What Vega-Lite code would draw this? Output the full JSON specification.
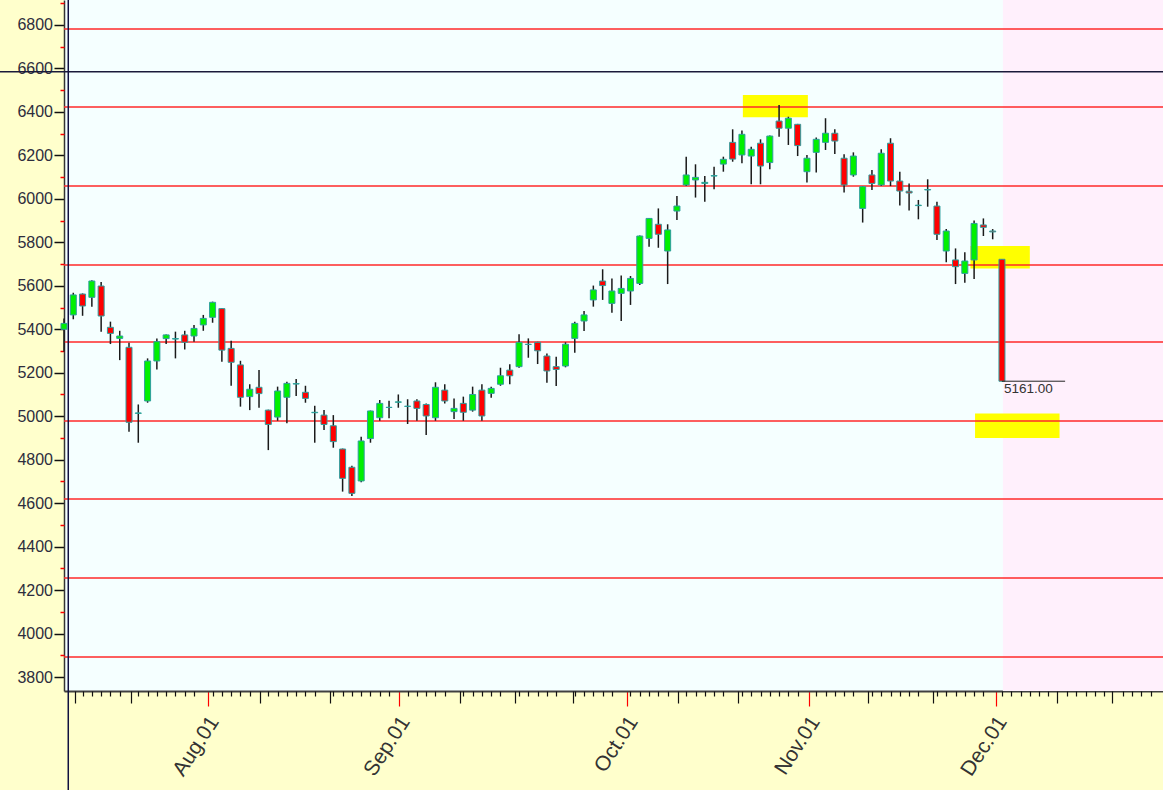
{
  "$schema": "https://vega.github.io/schema/vega-lite/v6.json",
  "width": 1099,
  "height": 691,
  "autosize": "none",
  "padding": {"left": 64, "top": 0, "right": 0, "bottom": 99},
  "background": "#ffffcc",
  "config": {"view": {"fill": "#f5ffff", "stroke": null}},
  "resolve": {"axis": {"x": "independent", "y": "independent"}},
  "datasets": {
    "candles": [
      {"i":0,"o":5400,"h":5450,"l":5297,"c":5427},
      {"i":1,"o":5466,"h":5568,"l":5446,"c":5558},
      {"i":2,"o":5562,"h":5565,"l":5462,"c":5507},
      {"i":3,"o":5547,"h":5625,"l":5504,"c":5622},
      {"i":4,"o":5599,"h":5617,"l":5389,"c":5461},
      {"i":5,"o":5409,"h":5435,"l":5332,"c":5381},
      {"i":6,"o":5358,"h":5393,"l":5258,"c":5369},
      {"i":7,"o":5317,"h":5338,"l":4929,"c":4972},
      {"i":8,"o":5013,"h":5054,"l":4878,"c":5015},
      {"i":9,"o":5070,"h":5266,"l":5062,"c":5254},
      {"i":10,"o":5254,"h":5358,"l":5215,"c":5343},
      {"i":11,"o":5357,"h":5376,"l":5332,"c":5374},
      {"i":12,"o":5355,"h":5389,"l":5266,"c":5357},
      {"i":13,"o":5374,"h":5393,"l":5307,"c":5340},
      {"i":14,"o":5369,"h":5420,"l":5343,"c":5404},
      {"i":15,"o":5420,"h":5466,"l":5393,"c":5450},
      {"i":16,"o":5455,"h":5527,"l":5430,"c":5524},
      {"i":17,"o":5495,"h":5497,"l":5251,"c":5304},
      {"i":18,"o":5312,"h":5347,"l":5140,"c":5248},
      {"i":19,"o":5236,"h":5255,"l":5044,"c":5087},
      {"i":20,"o":5090,"h":5147,"l":5028,"c":5124},
      {"i":21,"o":5133,"h":5212,"l":5039,"c":5104},
      {"i":22,"o":5028,"h":5030,"l":4844,"c":4962},
      {"i":23,"o":4996,"h":5136,"l":4979,"c":5116},
      {"i":24,"o":5087,"h":5159,"l":4967,"c":5151},
      {"i":25,"o":5148,"h":5171,"l":5093,"c":5150},
      {"i":26,"o":5110,"h":5140,"l":5062,"c":5082},
      {"i":27,"o":5016,"h":5048,"l":4878,"c":5018},
      {"i":28,"o":5005,"h":5028,"l":4936,"c":4962},
      {"i":29,"o":4956,"h":5005,"l":4855,"c":4883},
      {"i":30,"o":4849,"h":4851,"l":4653,"c":4714},
      {"i":31,"o":4765,"h":4772,"l":4633,"c":4645},
      {"i":32,"o":4702,"h":4906,"l":4696,"c":4886},
      {"i":33,"o":4897,"h":5026,"l":4878,"c":5024},
      {"i":34,"o":4993,"h":5075,"l":4979,"c":5059},
      {"i":35,"o":5040,"h":5071,"l":4990,"c":5041},
      {"i":36,"o":5064,"h":5100,"l":5039,"c":5066},
      {"i":37,"o":5045,"h":5078,"l":4964,"c":5046},
      {"i":38,"o":5070,"h":5078,"l":4979,"c":5036},
      {"i":39,"o":5054,"h":5059,"l":4913,"c":5001},
      {"i":40,"o":4993,"h":5156,"l":4979,"c":5133},
      {"i":41,"o":5120,"h":5147,"l":5059,"c":5070},
      {"i":42,"o":5021,"h":5082,"l":4987,"c":5036},
      {"i":43,"o":5059,"h":5090,"l":4979,"c":5018},
      {"i":44,"o":5028,"h":5136,"l":5021,"c":5100},
      {"i":45,"o":5120,"h":5147,"l":4979,"c":5001},
      {"i":46,"o":5105,"h":5136,"l":5085,"c":5128},
      {"i":47,"o":5147,"h":5223,"l":5140,"c":5186},
      {"i":48,"o":5212,"h":5239,"l":5147,"c":5186},
      {"i":49,"o":5228,"h":5377,"l":5223,"c":5340},
      {"i":50,"o":5330,"h":5358,"l":5269,"c":5331},
      {"i":51,"o":5340,"h":5342,"l":5240,"c":5301},
      {"i":52,"o":5277,"h":5289,"l":5154,"c":5208},
      {"i":53,"o":5228,"h":5274,"l":5139,"c":5215},
      {"i":54,"o":5231,"h":5340,"l":5225,"c":5331},
      {"i":55,"o":5358,"h":5435,"l":5292,"c":5427},
      {"i":56,"o":5438,"h":5484,"l":5392,"c":5466},
      {"i":57,"o":5535,"h":5601,"l":5504,"c":5581},
      {"i":58,"o":5622,"h":5676,"l":5535,"c":5601},
      {"i":59,"o":5519,"h":5634,"l":5476,"c":5576},
      {"i":60,"o":5565,"h":5647,"l":5438,"c":5588},
      {"i":61,"o":5576,"h":5645,"l":5512,"c":5634},
      {"i":62,"o":5611,"h":5832,"l":5604,"c":5829},
      {"i":63,"o":5818,"h":5912,"l":5780,"c":5910},
      {"i":64,"o":5883,"h":5956,"l":5775,"c":5837},
      {"i":65,"o":5760,"h":5883,"l":5608,"c":5857},
      {"i":66,"o":5944,"h":6013,"l":5903,"c":5967},
      {"i":67,"o":6064,"h":6194,"l":6059,"c":6110},
      {"i":68,"o":6087,"h":6159,"l":6006,"c":6099},
      {"i":69,"o":6071,"h":6105,"l":5987,"c":6076},
      {"i":70,"o":6105,"h":6148,"l":6044,"c":6107},
      {"i":71,"o":6160,"h":6194,"l":6125,"c":6182},
      {"i":72,"o":6260,"h":6320,"l":6171,"c":6183},
      {"i":73,"o":6202,"h":6314,"l":6164,"c":6297},
      {"i":74,"o":6197,"h":6240,"l":6067,"c":6228},
      {"i":75,"o":6256,"h":6274,"l":6067,"c":6151},
      {"i":76,"o":6167,"h":6291,"l":6136,"c":6289},
      {"i":77,"o":6358,"h":6432,"l":6286,"c":6325},
      {"i":78,"o":6325,"h":6378,"l":6248,"c":6371},
      {"i":79,"o":6343,"h":6345,"l":6197,"c":6245},
      {"i":80,"o":6125,"h":6202,"l":6075,"c":6187},
      {"i":81,"o":6214,"h":6282,"l":6121,"c":6274},
      {"i":82,"o":6260,"h":6371,"l":6225,"c":6302},
      {"i":83,"o":6302,"h":6320,"l":6206,"c":6266},
      {"i":84,"o":6187,"h":6205,"l":6029,"c":6064},
      {"i":85,"o":6110,"h":6214,"l":6102,"c":6197},
      {"i":86,"o":5956,"h":6058,"l":5891,"c":6056},
      {"i":87,"o":6110,"h":6133,"l":6041,"c":6071},
      {"i":88,"o":6064,"h":6228,"l":6059,"c":6210},
      {"i":89,"o":6256,"h":6279,"l":6059,"c":6082},
      {"i":90,"o":6082,"h":6125,"l":5969,"c":6036},
      {"i":91,"o":6035,"h":6071,"l":5946,"c":6027},
      {"i":92,"o":5969,"h":5995,"l":5906,"c":5971},
      {"i":93,"o":6041,"h":6090,"l":5964,"c":6043},
      {"i":94,"o":5967,"h":5987,"l":5811,"c":5837},
      {"i":95,"o":5760,"h":5861,"l":5708,"c":5852},
      {"i":96,"o":5719,"h":5772,"l":5608,"c":5688},
      {"i":97,"o":5657,"h":5754,"l":5614,"c":5714},
      {"i":98,"o":5719,"h":5900,"l":5631,"c":5887},
      {"i":99,"o":5880,"h":5910,"l":5829,"c":5869},
      {"i":100,"o":5852,"h":5861,"l":5814,"c":5848},
      {"i":101,"o":5722,"h":5722,"l":5161,"c":5161}
    ],
    "levels": [
      {"lv":6782},{"lv":6423},{"lv":6059},{"lv":5696},{"lv":5341},
      {"lv":4978},{"lv":4619},{"lv":4255},{"lv":3892}
    ],
    "highlights": [
      {"x1":73.1,"x2":80.1,"y1":6376,"y2":6478},
      {"x1":97.6,"x2":104.0,"y1":5680,"y2":5783},
      {"x1":98.1,"x2":107.2,"y1":4900,"y2":5012}
    ],
    "future": [{"a":101.1,"b":118.34}],
    "crossh": [{"xa":-6.9,"xb":118.34,"yv":6585}],
    "crossv": [{"xv":0.46,"ya":3280,"yb":6915}],
    "last": [{"xa":101,"xb":107.8,"yv":5161,"t":"5161.00"}]
  },
  "layer": [
    {
      "data": {"name": "future"},
      "mark": {"type": "rect", "color": "#fff0fc"},
      "encoding": {
        "x": {
          "field": "a", "type": "quantitative",
          "scale": {"domain": [0, 118.34], "nice": false, "zero": false, "padding": 0},
          "axis": {
            "orient": "bottom",
            "title": null,
            "grid": false,
            "values": [15.51, 36.07, 60.62, 80.22, 100.36],
            "labelExpr": "datum.value == 15.51 ? 'Aug.01' : datum.value == 36.07 ? 'Sep.01' : datum.value == 60.62 ? 'Oct.01' : datum.value == 80.22 ? 'Nov.01' : 'Dec.01'",
            "labelOverlap": false,
            "labelFlush": false,
            "labelBound": false,
            "labelAngle": -57,
            "labelAlign": "right",
            "labelBaseline": "middle",
            "labelFont": "Liberation Sans",
            "labelFontSize": 21,
            "labelColor": "#333333",
            "labelOffset": 6,
            "labelPadding": 12,
            "tickColor": "#ff0000",
            "tickSize": 15,
            "tickWidth": 1.2,
            "domainColor": "#404040",
            "domainWidth": 2
          }
        },
        "x2": {"field": "b"}
      }
    },
    {
      "data": {"name": "highlights"},
      "mark": {"type": "rect", "color": "#ffff00"},
      "encoding": {
        "x": {
          "field": "x1", "type": "quantitative",
          "scale": {"domain": [0, 118.34], "nice": false, "zero": false, "padding": 0},
          "axis": {
            "orient": "bottom",
            "title": null,
            "grid": false,
            "domain": false,
            "labels": false,
            "values": [1.18, 7.21, 21.1, 28.64, 42.64, 48.56, 54.81, 66.11, 72.57, 86.57, 93.57, 106.92, 112.85],
            "tickColor": "#111111",
            "tickSize": 12,
            "tickWidth": 1.2
          }
        },
        "x2": {"field": "x2"},
        "y": {"field": "y1", "type": "quantitative", "scale": {"domain": [3735.6, 6915], "nice": false, "zero": false, "padding": 0}, "axis": null},
        "y2": {"field": "y2"}
      }
    },
    {
      "data": {"name": "levels"},
      "mark": {"type": "rule", "color": "#ff2a2a", "strokeWidth": 1.5},
      "encoding": {
        "y": {
          "field": "lv", "type": "quantitative",
          "scale": {"domain": [3735.6, 6915], "nice": false, "zero": false, "padding": 0},
          "axis": {
            "orient": "left",
            "title": null,
            "grid": false,
            "values": [3800, 4000, 4200, 4400, 4600, 4800, 5000, 5200, 5400, 5600, 5800, 6000, 6200, 6400, 6600, 6800],
            "format": "d",
            "labelOverlap": false,
            "labelFlush": false,
            "labelBound": false,
            "labelFont": "Liberation Sans",
            "labelFontSize": 16,
            "labelColor": "#2d2d3d",
            "labelPadding": 1.5,
            "tickColor": "#111111",
            "tickSize": 10,
            "tickWidth": 1.5,
            "domainColor": "#333333",
            "domainWidth": 1.5
          }
        }
      }
    },
    {
      "data": {"name": "crossh"},
      "mark": {"type": "rule", "color": "#1a1a3a", "strokeWidth": 1.5, "clip": false},
      "encoding": {
        "x": {"field": "xa", "type": "quantitative", "scale": {"domain": [0, 118.34], "nice": false, "zero": false, "padding": 0}, "axis": null},
        "x2": {"field": "xb"},
        "y": {
          "field": "yv", "type": "quantitative",
          "scale": {"domain": [3735.6, 6915], "nice": false, "zero": false, "padding": 0},
          "axis": {
            "orient": "left",
            "title": null,
            "grid": false,
            "domain": false,
            "labels": false,
            "values": [3900, 4100, 4300, 4500, 4700, 4900, 5100, 5300, 5500, 5700, 5900, 6100, 6300, 6500, 6700, 6900],
            "tickColor": "#ff0000",
            "tickSize": 4,
            "tickWidth": 1.5
          }
        }
      }
    },
    {
      "data": {"name": "crossv"},
      "mark": {"type": "rule", "color": "#101040", "strokeWidth": 1.5, "clip": false},
      "encoding": {
        "x": {
          "field": "xv", "type": "quantitative",
          "scale": {"domain": [0, 118.34], "nice": false, "zero": false, "padding": 0},
          "axis": {
            "orient": "bottom",
            "title": null,
            "grid": false,
            "domain": false,
            "labels": false,
            "values": [2,3,4,5,6,8,9,10,11,12,13,14,16,17,18,19,20,22,23,24,25,26,27,29,30,31,32,33,34,35,37,38,39,40,41,43,44,45,46,47,49,50,51,52,53,55,56,57,58,59,61,62,63,64,65,67,68,69,70,71,73,74,75,76,77,78,79,81,82,83,84,85,87,88,89,90,91,92,94,95,96,97,98,99,101,102,103,104,105,106,108,109,110,111,112,114,115,116,117],
            "tickColor": "#111111",
            "tickSize": 5,
            "tickWidth": 1.2
          }
        },
        "y": {"field": "ya", "type": "quantitative", "scale": {"domain": [3735.6, 6915], "nice": false, "zero": false, "padding": 0}, "axis": null},
        "y2": {"field": "yb"}
      }
    },
    {
      "data": {"name": "candles"},
      "mark": {"type": "rule", "color": "#1a1a1a", "strokeWidth": 1.5},
      "encoding": {
        "x": {"field": "i", "type": "quantitative", "scale": {"domain": [0, 118.34], "nice": false, "zero": false, "padding": 0}, "axis": null},
        "y": {"field": "l", "type": "quantitative", "scale": {"domain": [3735.6, 6915], "nice": false, "zero": false, "padding": 0}, "axis": null},
        "y2": {"field": "h"}
      }
    },
    {
      "data": {"name": "candles"},
      "mark": {"type": "bar", "size": 6, "stroke": "#2e9e9e", "strokeWidth": 1},
      "encoding": {
        "x": {"field": "i", "type": "quantitative", "scale": {"domain": [0, 118.34], "nice": false, "zero": false, "padding": 0}, "axis": null},
        "y": {"field": "o", "type": "quantitative", "scale": {"domain": [3735.6, 6915], "nice": false, "zero": false, "padding": 0}, "axis": null},
        "y2": {"field": "c"},
        "fill": {"condition": {"test": "datum.c >= datum.o", "value": "#00f000"}, "value": "#ff0000"}
      }
    },
    {
      "data": {"name": "last"},
      "mark": {"type": "rule", "color": "#222222", "strokeWidth": 1},
      "encoding": {
        "x": {"field": "xa", "type": "quantitative", "scale": {"domain": [0, 118.34], "nice": false, "zero": false, "padding": 0}, "axis": null},
        "x2": {"field": "xb"},
        "y": {"field": "yv", "type": "quantitative", "scale": {"domain": [3735.6, 6915], "nice": false, "zero": false, "padding": 0}, "axis": null}
      }
    },
    {
      "data": {"name": "last"},
      "mark": {"type": "text", "align": "left", "baseline": "top", "dx": 2, "dy": 1, "font": "Liberation Sans", "fontSize": 13.5, "color": "#333333"},
      "encoding": {
        "x": {"field": "xa", "type": "quantitative", "scale": {"domain": [0, 118.34], "nice": false, "zero": false, "padding": 0}, "axis": null},
        "y": {"field": "yv", "type": "quantitative", "scale": {"domain": [3735.6, 6915], "nice": false, "zero": false, "padding": 0}, "axis": null},
        "text": {"field": "t"}
      }
    }
  ]
}
